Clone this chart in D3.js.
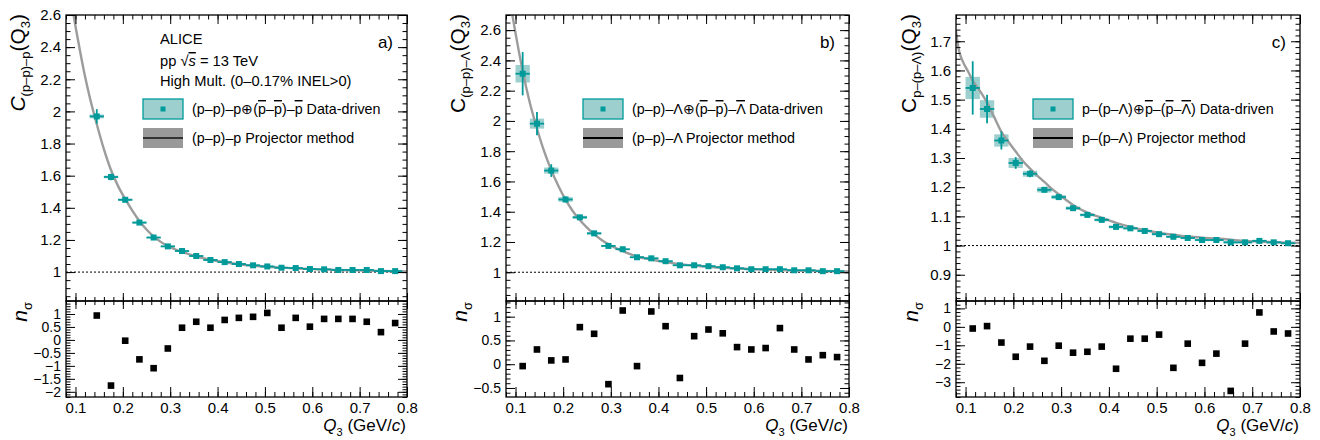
<!DOCTYPE html>
<html><head><meta charset="utf-8">
<script src="https://cdn.jsdelivr.net/npm/d3@7"></script>
<style>
body{margin:0;background:#fff}
text{font-family:"Liberation Sans",Arial,Helvetica,sans-serif;fill:#000}
.tick line{stroke:#000;stroke-width:1}
.tick text{font-size:15px}
.lower .tick text{font-size:14px}
</style></head><body>
<svg id="chart" width="1320" height="440"></svg>
<script>
// bin centres (GeV/c)
var qA = [0.145,0.175,0.205,0.235,0.265,0.295,0.325,0.355,0.385,0.415,0.445,0.475,0.505,0.535,0.565,0.595,0.625,0.655,0.685,0.715,0.745,0.775];
var qBC = [0.115,0.145,0.175,0.205,0.235,0.265,0.295,0.325,0.355,0.385,0.415,0.445,0.475,0.505,0.535,0.565,0.595,0.625,0.655,0.685,0.715,0.745,0.775];

// a) (p-p)-p
var cA = [1.969,1.592,1.450,1.308,1.215,1.160,1.131,1.100,1.075,1.062,1.050,1.042,1.035,1.027,1.025,1.019,1.017,1.013,1.013,1.013,1.006,1.006];
var statA = [0.045,0.020,0.012,0.008,0.006,0.005,0.004,0.004,0.003,0.003,0.003,0.003,0.003,0.003,0.003,0.003,0.003,0.003,0.003,0.003,0.003,0.003];
var systA = [0.012,0.008,0.007,0.006,0.005,0.005,0.004,0.004,0.004,0.004,0.004,0.004,0.004,0.004,0.004,0.004,0.004,0.004,0.004,0.004,0.004,0.004];
var nA = [0.94,-1.76,-0.03,-0.75,-1.09,-0.33,0.47,0.70,0.47,0.77,0.85,0.89,1.04,0.47,0.85,0.51,0.81,0.81,0.81,0.70,0.30,0.65];
var curveQA = [0.092,0.1,0.11,0.12,0.13,0.145,0.16,0.175,0.19,0.205,0.22,0.235,0.25,0.265,0.28,0.295,0.325,0.355,0.385,0.415,0.445,0.475,0.505,0.535,0.565,0.595,0.625,0.655,0.685,0.715,0.745,0.775,0.8];
var curveCA = [2.67,2.53,2.37,2.22,2.09,1.92,1.765,1.635,1.535,1.455,1.382,1.318,1.265,1.222,1.188,1.162,1.126,1.098,1.077,1.061,1.049,1.040,1.033,1.028,1.023,1.019,1.016,1.013,1.011,1.009,1.007,1.005,1.004];

// b) (p-p)-Lambda
var cB = [2.312,1.982,1.672,1.481,1.363,1.257,1.174,1.152,1.099,1.092,1.073,1.046,1.046,1.040,1.033,1.026,1.020,1.020,1.020,1.013,1.013,1.007,1.007];
var statB = [0.143,0.077,0.042,0.020,0.012,0.008,0.006,0.005,0.004,0.004,0.004,0.003,0.003,0.003,0.003,0.003,0.003,0.003,0.003,0.003,0.003,0.003,0.003];
var systB = [0.058,0.033,0.020,0.015,0.010,0.008,0.006,0.005,0.005,0.005,0.004,0.004,0.004,0.004,0.004,0.004,0.004,0.004,0.004,0.004,0.004,0.004,0.004];
var nB = [-0.04,0.31,0.08,0.10,0.78,0.64,-0.42,1.13,-0.04,1.11,0.80,-0.29,0.59,0.73,0.65,0.36,0.31,0.34,0.76,0.31,0.10,0.19,0.15];
var curveQB = [0.09,0.1,0.115,0.13,0.145,0.16,0.175,0.19,0.205,0.22,0.235,0.25,0.265,0.28,0.295,0.325,0.355,0.385,0.415,0.445,0.475,0.505,0.535,0.565,0.595,0.625,0.655,0.685,0.715,0.745,0.775,0.8];
var curveCB = [2.76,2.58,2.33,2.12,1.95,1.80,1.675,1.57,1.48,1.405,1.345,1.295,1.252,1.215,1.185,1.14,1.104,1.084,1.067,1.054,1.044,1.036,1.030,1.025,1.021,1.017,1.014,1.012,1.010,1.008,1.006,1.005];

// c) p-(p-Lambda)
var cC = [1.540,1.468,1.360,1.283,1.246,1.191,1.166,1.128,1.105,1.088,1.064,1.059,1.050,1.039,1.030,1.026,1.019,1.019,1.011,1.011,1.016,1.011,1.008];
var statC = [0.0915,0.049,0.031,0.020,0.012,0.008,0.006,0.005,0.004,0.004,0.004,0.003,0.003,0.003,0.003,0.003,0.003,0.003,0.003,0.003,0.003,0.003,0.003];
var systC = [0.038,0.030,0.021,0.017,0.010,0.009,0.007,0.006,0.005,0.005,0.005,0.004,0.004,0.004,0.004,0.004,0.004,0.004,0.004,0.004,0.004,0.004,0.004];
var nC = [-0.09,0.04,-0.85,-1.62,-1.07,-1.84,-1.02,-1.40,-1.35,-1.07,-2.27,-0.64,-0.64,-0.42,-2.22,-0.91,-1.95,-1.45,-3.47,-0.91,0.78,-0.25,-0.36];
var curveQC = [0.08,0.086,0.094,0.105,0.115,0.13,0.145,0.16,0.175,0.19,0.205,0.22,0.235,0.25,0.265,0.28,0.295,0.31,0.325,0.355,0.385,0.415,0.445,0.475,0.505,0.535,0.565,0.595,0.625,0.655,0.685,0.715,0.745,0.775,0.8];
var curveCC = [1.735,1.67,1.632,1.597,1.565,1.53,1.49,1.44,1.39,1.355,1.322,1.29,1.264,1.24,1.218,1.195,1.176,1.157,1.139,1.113,1.095,1.078,1.064,1.053,1.043,1.037,1.031,1.027,1.024,1.020,1.016,1.013,1.012,1.010,1.009];

// tick labels
var xTicks = [0.1,0.2,0.3,0.4,0.5,0.6,0.7,0.8];
var yTicksA = [1,1.2,1.4,1.6,1.8,2,2.2,2.4,2.6];
var yTicksB = [1,1.2,1.4,1.6,1.8,2,2.2,2.4,2.6];
var yTicksC = [0.9,1,1.1,1.2,1.3,1.4,1.5,1.6,1.7];
var nTicksA = [-2,-1.5,-1,-0.5,0,0.5,1];
var nTicksB = [-0.5,0,0.5,1];
var nTicksC = [-3,-2,-1,0,1];

var TEAL = "#009a9a", BOX = "#9dcfcf";
var padTop = 15, split = 301, bottom = 397;
var svg = d3.select("#chart");
var binHalf = 0.015;

var panels = [
  {id:"a", left:66, right:407, q:qA, c:cA, stat:statA, syst:systA, n:nA, cq:curveQA, cc:curveCA,
   yDom:[0.82,2.6], yTicks:yTicksA, yMinor:0.05, nDom:[-2.2,1.5], nTicks:nTicksA, nMinor:0.1,
   titleX:25, sub:"(p–p)–p", label:"a)", italicC:true},
  {id:"b", left:506, right:849, q:qBC, c:cB, stat:statB, syst:systB, n:nB, cq:curveQB, cc:curveCB,
   yDom:[0.81,2.7], yTicks:yTicksB, yMinor:0.05, nDom:[-0.69,1.33], nTicks:nTicksB, nMinor:0.1,
   titleX:465, sub:"(p–p)–Λ", label:"b)", italicC:false},
  {id:"c", left:956, right:1300, q:qBC, c:cC, stat:statC, syst:systC, n:nC, cq:curveQC, cc:curveCC,
   yDom:[0.81,1.79], yTicks:yTicksC, yMinor:0.02, nDom:[-3.8,1.4], nTicks:nTicksC, nMinor:0.2,
   titleX:916, sub:"p–(p–Λ)", label:"c)", italicC:false}
];

function fmt(v) { return (v < 0 ? "\u2212" : "") + d3.format("~g")(Math.abs(v)); }
function minors(dom, step) {
  var lo = Math.min(dom[0], dom[1]), hi = Math.max(dom[0], dom[1]);
  return d3.range(Math.ceil(lo / step - 1e-6), Math.floor(hi / step + 1e-6) + 1).map(function(k) { return +(k * step).toFixed(4); });
}
function clean(sel) { sel.select(".domain").remove(); }

function drawPanel(p) {
  var g = svg.append("g");
  var x = d3.scaleLinear().domain([0.08, 0.8]).range([p.left, p.right]);
  var y = d3.scaleLinear().domain(p.yDom).range([split, padTop]);
  var yn = d3.scaleLinear().domain(p.nDom).range([bottom, split]);

  var clipId = "clip" + p.id;
  svg.append("clipPath").attr("id", clipId).append("rect")
    .attr("x", p.left).attr("y", padTop).attr("width", p.right - p.left).attr("height", split - padTop);
  var plot = g.append("g").attr("clip-path", "url(#" + clipId + ")");

  var pts = p.q.map(function(q, i) { return {q:q, c:p.c[i], st:p.stat[i], sy:p.syst[i], n:p.n[i]}; });

  // systematic boxes
  plot.selectAll(".sys").data(pts).enter().append("rect")
    .attr("x", function(d) { return x(d.q - binHalf); })
    .attr("width", function(d) { return x(d.q + binHalf) - x(d.q - binHalf); })
    .attr("y", function(d) { return y(d.c + d.sy); })
    .attr("height", function(d) { return y(d.c - d.sy) - y(d.c + d.sy); })
    .attr("fill", BOX);

  // baseline at 1
  plot.append("line").attr("x1", p.left).attr("x2", p.right).attr("y1", y(1)).attr("y2", y(1))
    .attr("stroke", "#000").attr("stroke-width", 1).attr("stroke-dasharray", "2,2");

  // projector curve
  var line = d3.line().x(function(d) { return x(d[0]); }).y(function(d) { return y(d[1]); }).curve(d3.curveMonotoneX);
  plot.append("path").datum(p.cq.map(function(q, i) { return [q, p.cc[i]]; }))
    .attr("d", line).attr("fill", "none").attr("stroke", "#9c9c9c").attr("stroke-width", 2.4);

  // stat errors
  var eg = plot.selectAll(".err").data(pts).enter().append("g");
  eg.append("line").attr("x1", function(d) { return x(d.q - binHalf); }).attr("x2", function(d) { return x(d.q + binHalf); })
    .attr("y1", function(d) { return y(d.c); }).attr("y2", function(d) { return y(d.c); })
    .attr("stroke", TEAL).attr("stroke-width", 1.8);
  eg.append("line").attr("x1", function(d) { return x(d.q); }).attr("x2", function(d) { return x(d.q); })
    .attr("y1", function(d) { return y(d.c - d.st); }).attr("y2", function(d) { return y(d.c + d.st); })
    .attr("stroke", TEAL).attr("stroke-width", 1.8);
  eg.append("rect").attr("x", function(d) { return x(d.q) - 3; }).attr("y", function(d) { return y(d.c) - 3; })
    .attr("width", 6).attr("height", 6).attr("fill", TEAL);

  // n sigma
  g.selectAll(".ns").data(pts).enter().append("rect")
    .attr("x", function(d) { return x(d.q) - 3.3; }).attr("y", function(d) { return yn(d.n) - 3.3; })
    .attr("width", 6.6).attr("height", 6.6).attr("fill", "#000");

  // axes - upper pad
  g.append("g").attr("transform", "translate(" + p.left + ",0)")
    .call(d3.axisLeft(y).tickValues(p.yTicks).tickSize(-9).tickPadding(5).tickFormat(fmt)).call(clean);
  g.append("g").attr("transform", "translate(" + p.left + ",0)")
    .call(d3.axisLeft(y).tickValues(minors(p.yDom, p.yMinor)).tickSize(-4.5).tickFormat("")).call(clean);
  g.append("g").attr("transform", "translate(" + p.right + ",0)")
    .call(d3.axisRight(y).tickValues(p.yTicks).tickSize(-9).tickFormat("")).call(clean);
  g.append("g").attr("transform", "translate(" + p.right + ",0)")
    .call(d3.axisRight(y).tickValues(minors(p.yDom, p.yMinor)).tickSize(-4.5).tickFormat("")).call(clean);
  g.append("g").attr("transform", "translate(0," + padTop + ")")
    .call(d3.axisTop(x).tickValues(xTicks).tickSize(-9).tickFormat("")).call(clean);
  g.append("g").attr("transform", "translate(0," + padTop + ")")
    .call(d3.axisTop(x).tickValues(minors([0.08, 0.8], 0.02)).tickSize(-4.5).tickFormat("")).call(clean);
  g.append("g").attr("transform", "translate(0," + split + ")")
    .call(d3.axisBottom(x).tickValues(xTicks).tickSize(-8).tickFormat("")).call(clean);
  g.append("g").attr("transform", "translate(0," + split + ")")
    .call(d3.axisBottom(x).tickValues(minors([0.08, 0.8], 0.02)).tickSize(-4).tickFormat("")).call(clean);

  // axes - lower pad
  g.append("g").attr("class", "lower").attr("transform", "translate(" + p.left + ",0)")
    .call(d3.axisLeft(yn).tickValues(p.nTicks).tickSize(-9).tickPadding(5).tickFormat(fmt)).call(clean);
  g.append("g").attr("transform", "translate(" + p.left + ",0)")
    .call(d3.axisLeft(yn).tickValues(minors(p.nDom, p.nMinor)).tickSize(-4.5).tickFormat("")).call(clean);
  g.append("g").attr("transform", "translate(" + p.right + ",0)")
    .call(d3.axisRight(yn).tickValues(p.nTicks).tickSize(-9).tickFormat("")).call(clean);
  g.append("g").attr("transform", "translate(" + p.right + ",0)")
    .call(d3.axisRight(yn).tickValues(minors(p.nDom, p.nMinor)).tickSize(-4.5).tickFormat("")).call(clean);
  g.append("g").attr("transform", "translate(0," + split + ")")
    .call(d3.axisTop(x).tickValues(xTicks).tickSize(-8).tickFormat("")).call(clean);
  g.append("g").attr("transform", "translate(0," + split + ")")
    .call(d3.axisTop(x).tickValues(minors([0.08, 0.8], 0.02)).tickSize(-4).tickFormat("")).call(clean);
  g.append("g").attr("transform", "translate(0," + bottom + ")")
    .call(d3.axisBottom(x).tickValues(xTicks).tickSize(-10).tickPadding(5).tickFormat(fmt)).call(clean);
  g.append("g").attr("transform", "translate(0," + bottom + ")")
    .call(d3.axisBottom(x).tickValues(minors([0.08, 0.8], 0.02)).tickSize(-5).tickFormat("")).call(clean);

  // frames
  g.append("rect").attr("x", p.left).attr("y", padTop).attr("width", p.right - p.left).attr("height", split - padTop)
    .attr("fill", "none").attr("stroke", "#000").attr("stroke-width", 1.3);
  g.append("rect").attr("x", p.left).attr("y", split).attr("width", p.right - p.left).attr("height", bottom - split)
    .attr("fill", "none").attr("stroke", "#000").attr("stroke-width", 1.3);

  // y title
  var t = g.append("text").attr("transform", "translate(" + p.titleX + "," + (padTop - 1) + ") rotate(-90)")
    .attr("text-anchor", "end").style("font-size", "21px");
  t.append("tspan").style("font-style", p.italicC ? "italic" : "normal").text("C");
  t.append("tspan").attr("dy", 5).style("font-size", "13px").text(p.sub);
  t.append("tspan").attr("dy", -5).text("(Q");
  t.append("tspan").attr("dy", 5).style("font-size", "13px").text("3");
  t.append("tspan").attr("dy", -5).text(")");

  var tn = g.append("text").attr("transform", "translate(" + (p.titleX + 2) + "," + (split + 1) + ") rotate(-90)")
    .attr("text-anchor", "end").style("font-size", "21px");
  tn.append("tspan").style("font-style", "italic").text("n");
  tn.append("tspan").attr("dy", 5).style("font-size", "13px").text("σ");

  // x title
  var tx = g.append("text").attr("x", p.right - 1).attr("y", 431).attr("text-anchor", "end").style("font-size", "17px");
  tx.append("tspan").style("font-style", "italic").text("Q");
  tx.append("tspan").attr("dy", 5).style("font-size", "11px").text("3");
  tx.append("tspan").attr("dy", -5).text(" (GeV/");
  tx.append("tspan").style("font-style", "italic").text("c");
  tx.append("tspan").text(")");

  // panel label
  g.append("text").attr("x", p.right - 14).attr("y", 48).attr("text-anchor", "end").style("font-size", "17px").text(p.label);
}

panels.forEach(drawPanel);

// ALICE header
var hd = svg.append("g").style("font-size", "14.7px");
hd.append("text").attr("x", 160).attr("y", 44).text("ALICE");
var ss = hd.append("text").attr("x", 160).attr("y", 66);
ss.append("tspan").text("pp  \u221A");
ss.append("tspan").style("font-style", "italic").style("text-decoration", "overline").text("s");
ss.append("tspan").text(" = 13 TeV");
hd.append("text").attr("x", 160).attr("y", 86).text("High Mult. (0–0.17% INEL>0)");

// legends
function bar(t, s) { t.append("tspan").style("text-decoration", "overline").text(s); }
var legends = [
  {x:143, lineCol:"#333",
   data:function(t) { t.append("tspan").text("(p–p)–p⊕("); bar(t, "p"); t.append("tspan").text("–"); bar(t, "p"); t.append("tspan").text(")–"); bar(t, "p"); t.append("tspan").text(" Data-driven"); },
   proj:"(p–p)–p Projector method"},
  {x:583, lineCol:"#000",
   data:function(t) { t.append("tspan").text("(p–p)–Λ⊕("); bar(t, "p"); t.append("tspan").text("–"); bar(t, "p"); t.append("tspan").text(")–"); bar(t, "Λ"); t.append("tspan").text(" Data-driven"); },
   proj:"(p–p)–Λ Projector method"},
  {x:1033, lineCol:"#000",
   data:function(t) { t.append("tspan").text("p–(p–Λ)⊕"); bar(t, "p"); t.append("tspan").text("–("); bar(t, "p"); t.append("tspan").text("–"); bar(t, "Λ"); t.append("tspan").text(") Data-driven"); },
   proj:"p–(p–Λ) Projector method"}
];
legends.forEach(function(l) {
  var lg = svg.append("g");
  lg.append("rect").attr("x", l.x).attr("y", 99).attr("width", 40).attr("height", 20)
    .attr("fill", BOX).attr("stroke", TEAL).attr("stroke-width", 1.3);
  lg.append("rect").attr("x", l.x + 17.5).attr("y", 106.5).attr("width", 5).attr("height", 5).attr("fill", TEAL);
  lg.append("rect").attr("x", l.x).attr("y", 128).attr("width", 40).attr("height", 20).attr("fill", "#999");
  lg.append("line").attr("x1", l.x).attr("x2", l.x + 40).attr("y1", 138).attr("y2", 138)
    .attr("stroke", l.lineCol).attr("stroke-width", 2);
  var t1 = lg.append("text").attr("x", l.x + 49).attr("y", 114).style("font-size", "14.3px");
  l.data(t1);
  lg.append("text").attr("x", l.x + 49).attr("y", 143).style("font-size", "14.3px").text(l.proj);
});
</script></body></html>
